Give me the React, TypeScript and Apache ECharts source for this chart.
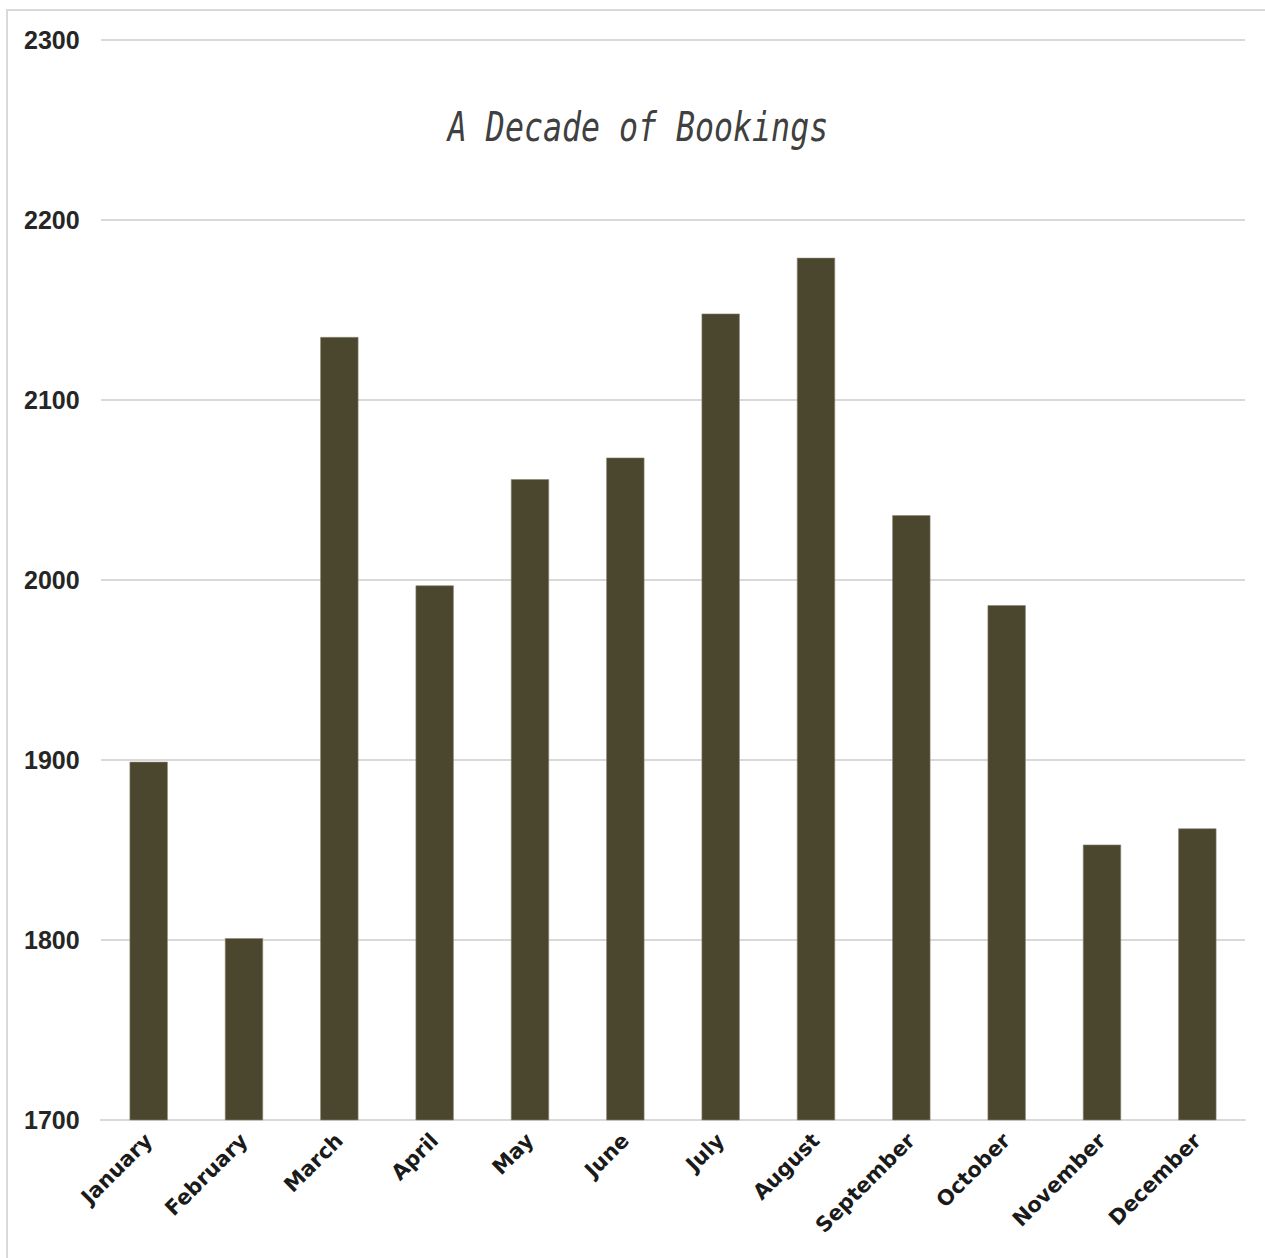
import React, { useEffect, useRef } from "react";
import * as echarts from "echarts";

const months = ["January", "February", "March", "April", "May", "June", "July", "August", "September", "October", "November", "December"];
const bookings = [1899, 1801, 2135, 1997, 2056, 2068, 2148, 2179, 2036, 1986, 1853, 1862];
const yMin = 1700;
const yMax = 2300;
const yStep = 100;
const titleText = "A Decade of Bookings";

export default function App() {
  const ref = useRef<HTMLDivElement>(null);
  useEffect(() => {
    if (!ref.current) return;
    const chart = echarts.init(ref.current, undefined, { renderer: "svg" });
    chart.setOption({
      animation: false,
      backgroundColor: "#ffffff",
      grid: { left: 101, right: 20, top: 40, bottom: 138, containLabel: false },
      graphic: [
        {
          type: "rect",
          shape: { x: 7, y: 10, width: 1300, height: 1300 },
          style: { fill: "none", stroke: "#d9d9d9", lineWidth: 2 },
          silent: true,
        },
        {
          type: "text",
          x: 638,
          y: 127,
          scaleX: 0.79,
          scaleY: 1,
          style: {
            text: titleText,
            font: "oblique 40px 'DejaVu Sans Mono'",
            fill: "#404040",
            textAlign: "center",
            textVerticalAlign: "middle",
          },
        },
      ],
      xAxis: {
        type: "category",
        data: months,
        axisLine: { show: true, lineStyle: { color: "#d9d9d9", width: 2 } },
        axisTick: { show: false },
        axisLabel: {
          rotate: 45,
          interval: 0,
          margin: 17,
          color: "#1a1a1a",
          fontSize: 21,
          fontWeight: "bold",
          fontFamily: "'DejaVu Sans'",
        },
      },
      yAxis: {
        type: "value",
        min: yMin,
        max: yMax,
        interval: yStep,
        axisLine: { show: false },
        axisTick: { show: false },
        splitLine: { lineStyle: { color: "#d9d9d9", width: 2 } },
        axisLabel: {
          align: "left",
          margin: 77,
          color: "#262626",
          fontSize: 25,
          fontWeight: "bold",
          fontFamily: "'Liberation Sans', Arial",
          formatter: (v: number) => String(v),
        },
      },
      series: [
        {
          type: "bar",
          data: bookings,
          barWidth: "40%",
          itemStyle: { color: "#4b462e", borderColor: "#8c8876", borderWidth: 0.6 },
        },
      ],
    });
    return () => chart.dispose();
  }, []);
  return (
    <div
      ref={ref}
      style={{ position: "absolute", left: 0, top: 0, width: 1265, height: 1258 }}
    />
  );
}
